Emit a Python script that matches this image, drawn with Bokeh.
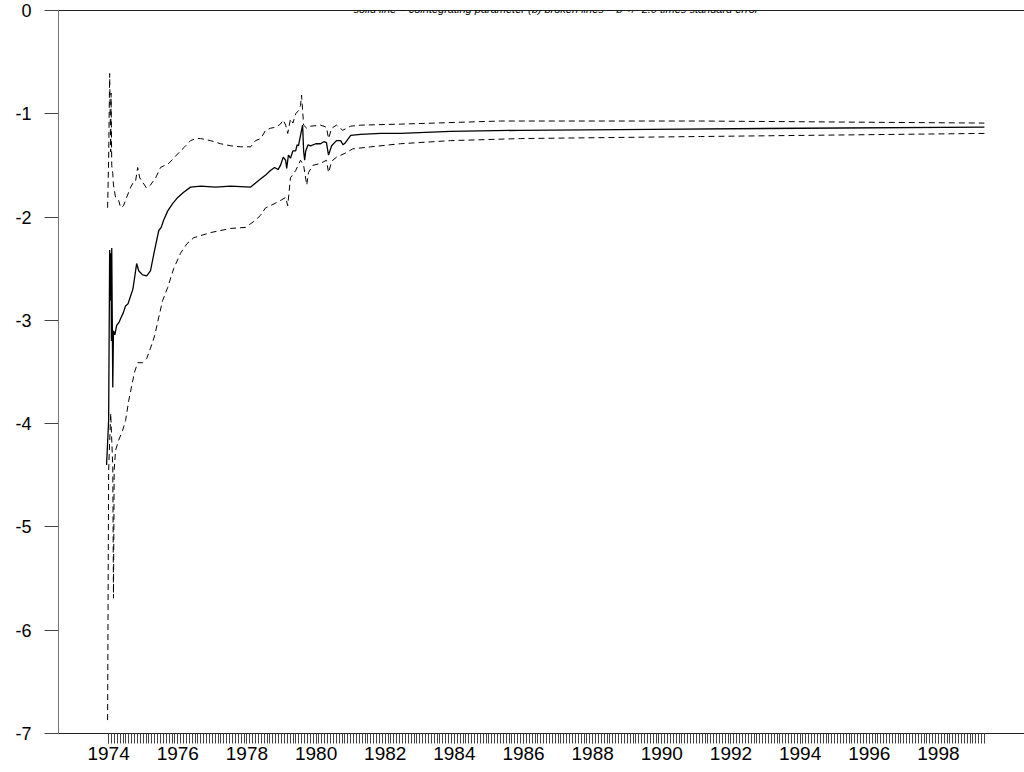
from bokeh.plotting import figure
from bokeh.models import FixedTicker, LinearAxis, Label, Range1d
from bokeh.embed import file_html
from bokeh.resources import INLINE

TITLE = "solid line = cointegrating parameter (b)    broken lines = b +/- 2.0 times standard error"

# cointegrating parameter b (solid)
b_dates = [1973.94, 1974.00, 1974.03, 1974.06, 1974.07, 1974.08, 1974.09, 1974.12, 1974.14, 1974.18,
           1974.23, 1974.30, 1974.35, 1974.42, 1974.49, 1974.56, 1974.64, 1974.70, 1974.75, 1974.81,
           1974.87, 1974.98, 1975.10, 1975.21, 1975.33, 1975.45, 1975.52, 1975.59, 1975.71, 1975.85,
           1976.00, 1976.17, 1976.37, 1976.66, 1977.09, 1977.53, 1978.11, 1978.25, 1978.40, 1978.55,
           1978.68, 1978.80, 1978.90, 1978.97, 1979.05, 1979.12, 1979.15, 1979.20, 1979.26, 1979.33,
           1979.41, 1979.45, 1979.49, 1979.55, 1979.61, 1979.64, 1979.67, 1979.70, 1979.77, 1979.84,
           1979.99, 1980.13, 1980.22, 1980.30, 1980.36, 1980.45, 1980.59, 1980.71, 1980.78, 1980.85,
           1981.00, 1981.29, 1981.87, 1982.44, 1983.89, 1985.91, 1989.67, 1994.01, 1999.33]
b_vals = [-4.40, -3.97, -2.32, -2.81, -2.35, -3.20, -2.30, -3.65, -3.10, -3.14,
          -3.05, -3.02, -2.98, -2.93, -2.86, -2.84, -2.76, -2.70, -2.59, -2.45,
          -2.52, -2.56, -2.57, -2.52, -2.32, -2.13, -2.10, -2.03, -1.94, -1.87,
          -1.81, -1.76, -1.71, -1.70, -1.71, -1.70, -1.71, -1.67, -1.63, -1.59,
          -1.55, -1.52, -1.54, -1.50, -1.42, -1.45, -1.53, -1.40, -1.43, -1.36,
          -1.36, -1.30, -1.31, -1.21, -1.11, -1.36, -1.45, -1.36, -1.30, -1.31,
          -1.29, -1.29, -1.27, -1.28, -1.40, -1.31, -1.26, -1.26, -1.30, -1.28,
          -1.21, -1.20, -1.19, -1.19, -1.17, -1.16, -1.15, -1.14, -1.13]

# b + 2 s.e. (upper broken line)
up_dates = [1973.97, 1974.00, 1974.03, 1974.06, 1974.07, 1974.09, 1974.12, 1974.14, 1974.20, 1974.29,
            1974.35, 1974.43, 1974.52, 1974.64, 1974.72, 1974.78, 1974.84, 1974.90, 1974.98, 1975.10,
            1975.21, 1975.36, 1975.50, 1975.62, 1975.74, 1975.88, 1976.02, 1976.20, 1976.37, 1976.52,
            1976.66, 1976.95, 1977.24, 1977.53, 1977.82, 1978.11, 1978.25, 1978.40, 1978.54, 1978.68,
            1978.83, 1978.97, 1979.05, 1979.12, 1979.18, 1979.26, 1979.33, 1979.41, 1979.49, 1979.55,
            1979.58, 1979.64, 1979.73, 1979.84, 1980.13, 1980.30, 1980.36, 1980.45, 1980.59, 1980.77,
            1981.00, 1981.29, 1982.44, 1985.34, 1991.12, 1999.33]
up_vals = [-1.91, -1.45, -0.61, -1.37, -0.80, -1.50, -1.58, -1.69, -1.81, -1.84,
           -1.91, -1.89, -1.81, -1.71, -1.66, -1.65, -1.52, -1.62, -1.66, -1.72,
           -1.69, -1.62, -1.52, -1.50, -1.48, -1.43, -1.38, -1.32, -1.26, -1.24,
           -1.24, -1.26, -1.29, -1.31, -1.32, -1.32, -1.26, -1.24, -1.16, -1.14,
           -1.13, -1.10, -1.06, -1.11, -1.19, -1.05, -1.09, -1.00, -0.97, -0.92,
           -0.82, -1.11, -1.14, -1.12, -1.11, -1.13, -1.24, -1.14, -1.11, -1.16,
           -1.12, -1.11, -1.10, -1.07, -1.07, -1.09]

# b - 2 s.e. (lower broken line)
lo_dates = [1973.97, 1974.00, 1974.06, 1974.09, 1974.12, 1974.14, 1974.16, 1974.20, 1974.29, 1974.40,
            1974.49, 1974.58, 1974.67, 1974.75, 1974.84, 1974.98, 1975.10, 1975.21, 1975.33, 1975.45,
            1975.56, 1975.71, 1975.88, 1976.08, 1976.26, 1976.46, 1976.66, 1976.95, 1977.53, 1977.96,
            1978.25, 1978.40, 1978.54, 1978.68, 1978.97, 1979.12, 1979.18, 1979.26, 1979.41, 1979.55,
            1979.64, 1979.73, 1979.78, 1979.90, 1980.13, 1980.30, 1980.36, 1980.45, 1980.59, 1980.85,
            1981.06, 1981.58, 1982.44, 1983.89, 1985.91, 1991.12, 1999.33]
lo_vals = [-6.87, -4.45, -3.90, -4.16, -4.42, -5.69, -4.45, -4.26, -4.16, -4.07,
           -3.97, -3.78, -3.63, -3.50, -3.41, -3.41, -3.37, -3.27, -3.15, -2.97,
           -2.81, -2.68, -2.50, -2.35, -2.26, -2.20, -2.18, -2.15, -2.11, -2.10,
           -2.03, -1.98, -1.91, -1.89, -1.84, -1.81, -1.89, -1.62, -1.55, -1.45,
           -1.50, -1.69, -1.57, -1.50, -1.48, -1.45, -1.57, -1.46, -1.42, -1.38,
           -1.34, -1.32, -1.29, -1.26, -1.24, -1.22, -1.19]

year_ticks = [1974, 1976, 1978, 1980, 1982, 1984, 1986, 1988, 1990, 1992, 1994, 1996, 1998]
y_ticks = [-7, -6, -5, -4, -3, -2, -1, 0]
first_month, n_months = 1974.0, 305

p = figure(width=1024, height=772, x_range=Range1d(1972.55, 2000.49), y_range=Range1d(-7, 0),
           output_backend="svg", toolbar_location=None,
           min_border_left=58, min_border_right=0, min_border_top=10, min_border_bottom=39)
p.outline_line_color = None
p.xgrid.visible = False
p.ygrid.visible = False
p.background_fill_color = "white"
p.border_fill_color = "white"

xa = p.xaxis[0]
xa.ticker = FixedTicker(ticks=year_ticks, minor_ticks=[first_month + m / 12 for m in range(n_months)])
xa.major_tick_in = 0
xa.major_tick_out = 10
xa.minor_tick_in = 0
xa.minor_tick_out = 10
xa.major_tick_line_color = "#444444"
xa.minor_tick_line_color = "#444444"
xa.axis_line_color = "#222222"
xa.major_label_text_font = "Liberation Sans"
xa.major_label_text_font_size = "19px"
xa.major_label_text_color = "black"
xa.major_label_standoff = 3

ya = p.yaxis[0]
ya.ticker = FixedTicker(ticks=y_ticks)
ya.major_label_overrides = {t: str(t) for t in y_ticks}
ya.major_tick_in = 0
ya.major_tick_out = 14
ya.minor_tick_line_color = None
ya.major_tick_line_color = "#444444"
ya.axis_line_color = "#777777"
ya.major_label_text_font = "Liberation Sans"
ya.major_label_text_font_size = "18px"
ya.major_label_text_color = "black"
ya.major_label_standoff = 13

top = LinearAxis(ticker=FixedTicker(ticks=[]), major_label_text_font_size="0px",
                 major_tick_line_color=None, minor_tick_line_color=None, axis_line_color="#222222")
p.add_layout(top, "above")

p.line(lo_dates, lo_vals, line_color="black", line_width=1, line_dash="6 4")
p.line(up_dates, up_vals, line_color="black", line_width=1, line_dash="6 4")
p.line(b_dates, b_vals, line_color="black", line_width=1.3)

p.add_layout(Label(x=1987.07, y=0.012, text=TITLE, text_align="center", text_baseline="alphabetic",
                   text_font="Liberation Sans", text_font_style="italic", text_font_size="11px",
                   text_color="black"))

open("out.html", "w").write(file_html(p, INLINE))
